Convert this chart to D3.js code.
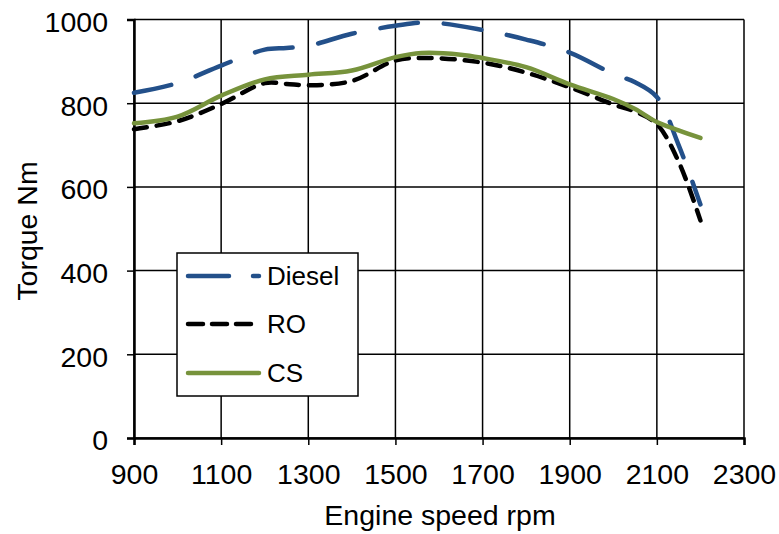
<!DOCTYPE html>
<html>
<head>
<meta charset="utf-8">
<script src="https://cdn.jsdelivr.net/npm/d3@7"></script>
<style>
  html, body { margin: 0; padding: 0; background: #fff; }
  svg { display: block; font-family: "Liberation Sans", Arial, sans-serif; }
</style>
</head>
<body>
<svg id="chart" width="779" height="534"></svg>
<script>
// ---- data ----
const rpmDiesel = [900, 1000, 1100, 1200, 1250, 1300, 1400, 1500, 1575, 1700, 1800, 1900, 2000, 2050, 2100, 2150, 2200];
const diesel    = [825, 848, 890, 928, 932, 937, 966, 985, 993, 975, 952, 921, 870, 850, 815, 700, 558];
const rpmRO     = [900, 1000, 1100, 1200, 1250, 1300, 1400, 1500, 1575, 1700, 1800, 1900, 2000, 2050, 2100, 2150, 2200];
const ro        = [738, 757, 798, 848, 846, 843, 853, 902, 908, 897, 873, 838, 797, 780, 750, 660, 520];
const rpmCS     = [900, 1000, 1100, 1200, 1300, 1400, 1500, 1560, 1650, 1700, 1800, 1900, 2000, 2050, 2100, 2150, 2200];
const cs        = [752, 768, 818, 857, 868, 878, 910, 920, 916, 908, 886, 845, 810, 786, 755, 735, 717];
const xTicks = [900, 1100, 1300, 1500, 1700, 1900, 2100, 2300];
const yTicks = [0, 200, 400, 600, 800, 1000];
const seriesNames = ["Diesel", "RO", "CS"];

// ---- layout ----
const svg = d3.select("#chart");
const L = 134, R = 744, T = 19.5, B = 438;
const FS = 28.5;
const x = d3.scaleLinear().domain([900, 2300]).range([L, R]);
const y = d3.scaleLinear().domain([0, 1000]).range([B, T]);

// grid
const grid = svg.append("g");
grid.selectAll("line.v").data(xTicks).enter().append("line")
  .attr("x1", d => x(d)).attr("x2", d => x(d)).attr("y1", T).attr("y2", B)
  .attr("stroke", "#000").attr("stroke-width", 1.5);
grid.selectAll("line.h").data(yTicks).enter().append("line")
  .attr("x1", L).attr("x2", R).attr("y1", d => y(d)).attr("y2", d => y(d))
  .attr("stroke", "#000").attr("stroke-width", 1.5);

// axes
const xAxis = svg.append("g").attr("transform", `translate(0,${B})`)
  .call(d3.axisBottom(x).tickValues(xTicks).tickSize(7).tickPadding(12).tickFormat(d3.format("d")));
const yAxis = svg.append("g").attr("transform", `translate(${L},0)`)
  .call(d3.axisLeft(y).tickValues(yTicks).tickSize(7).tickPadding(19).tickFormat(d3.format("d")));
[xAxis, yAxis].forEach(a => {
  a.select(".domain").attr("stroke", "#000").attr("stroke-width", 2.5);
  a.selectAll(".tick line").attr("stroke", "#000").attr("stroke-width", 1.5);
  a.selectAll(".tick text").attr("fill", "#000").attr("font-size", FS)
    .attr("font-family", "Liberation Sans, Arial, sans-serif");
});
xAxis.selectAll(".tick text").attr("dy", "0.71em").attr("y", 26);
yAxis.selectAll(".tick text").attr("dy", "0.42em");

// axis titles
svg.append("text").attr("x", 440).attr("y", 525).attr("text-anchor", "middle")
  .attr("font-size", FS).attr("fill", "#000").text("Engine speed rpm");
svg.append("text").attr("transform", `translate(37,231) rotate(-90)`)
  .attr("text-anchor", "middle").attr("font-size", FS).attr("fill", "#000").text("Torque Nm");

// series
const styles = {
  Diesel: { color: "#23508A", width: 4.5, dash: "38,26" },
  RO:     { color: "#000000", width: 4.5, dash: "13,10" },
  CS:     { color: "#77933C", width: 4.5, dash: null }
};
const seriesData = [
  { name: "Diesel", pts: rpmDiesel.map((r, i) => [r, diesel[i]]) },
  { name: "RO",     pts: rpmRO.map((r, i) => [r, ro[i]]) },
  { name: "CS",     pts: rpmCS.map((r, i) => [r, cs[i]]) }
];
const line = d3.line().x(d => x(d[0])).y(d => y(d[1])).curve(d3.curveCatmullRom.alpha(0.5));
seriesData.forEach(s => {
  const st = styles[s.name];
  svg.append("path").datum(s.pts).attr("d", line)
    .attr("fill", "none").attr("stroke", st.color).attr("stroke-width", st.width)
    .attr("stroke-linecap", "round").attr("stroke-linejoin", "round")
    .attr("stroke-dasharray", st.dash);
});

// legend
const lg = svg.append("g");
lg.append("rect").attr("x", 177).attr("y", 253).attr("width", 181).attr("height", 143)
  .attr("fill", "#fff").attr("stroke", "#000").attr("stroke-width", 1.5);
const legY = [276, 324, 373];
seriesNames.forEach((n, i) => {
  const st = styles[n];
  lg.append("line").attr("x1", 188).attr("x2", 259).attr("y1", legY[i]).attr("y2", legY[i])
    .attr("stroke", st.color).attr("stroke-width", st.width).attr("stroke-linecap", "round")
    .attr("stroke-dasharray", n === "Diesel" ? "41,24" : (n === "RO" ? "15,9" : null));
  lg.append("text").attr("x", 267).attr("y", legY[i]).attr("dy", "0.36em")
    .attr("font-size", 26).attr("fill", "#000").text(n);
});
</script>
</body>
</html>
